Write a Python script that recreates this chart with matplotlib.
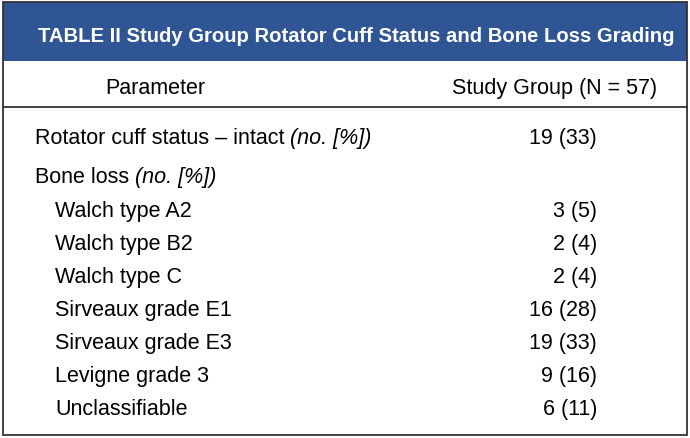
import matplotlib.pyplot as plt
from matplotlib.patches import Rectangle
from matplotlib import font_manager

title = "TABLE II Study Group Rotator Cuff Status and Bone Loss Grading"
col_headers = ["Parameter", "Study Group (N = 57)"]

labels = ["Rotator cuff status \u2013 intact", "Bone loss", "Walch type A2", "Walch type B2",
          "Walch type C", "Sirveaux grade E1", "Sirveaux grade E3", "Levigne grade 3",
          "Unclassifiable"]
label_notes = [" (no. [%])", " (no. [%])", "", "", "", "", "", "", ""]
indent = [0, 0, 1, 1, 1, 1, 1, 1, 1]
values = ["19 (33)", "", "3 (5)", "2 (4)", "2 (4)", "16 (28)", "19 (33)", "9 (16)", "6 (11)"]

row_y = [136, 175, 209, 242, 275, 308, 341, 374, 407]

installed = {f.name for f in font_manager.fontManager.ttflist}
narrow = "Liberation Sans Narrow" in installed
font = ["Liberation Sans Narrow" if narrow else "Liberation Sans", "DejaVu Sans"]
body_fs = 17.5 if narrow else 15.5
title_fs = 18 if narrow else 14.6

W, H = 690, 439
fig = plt.figure(figsize=(W / 100, H / 100), dpi=100)
ax = fig.add_axes([0, 0, 1, 1])
ax.set_xlim(0, W)
ax.set_ylim(H, 0)
ax.axis("off")

blue = "#2f5594"
edge = "#333333"

# header band and outline
ax.add_patch(Rectangle((3, 3), W - 6, 59, facecolor=blue, edgecolor="none"))
ax.add_patch(Rectangle((3, 3), W - 6, H - 6, facecolor="none", edgecolor=edge, lw=1.3))
ax.plot([3, W - 3], [108, 108], color=edge, lw=1.3)

ax.text(356, 34, title, color="white", fontsize=title_fs, fontweight="bold",
        family=font, ha="center", va="center_baseline")
ax.text(155, 86, col_headers[0], fontsize=body_fs, family=font, ha="center",
        va="center_baseline")
ax.text(555, 86, col_headers[1], fontsize=body_fs, family=font, ha="center",
        va="center_baseline")

for y, lab, note, ind, val in zip(row_y, labels, label_notes, indent, values):
    x0 = 35 + 20 * ind
    t = ax.text(x0, y, lab, fontsize=body_fs, family=font, ha="left", va="center_baseline")
    if note:
        fig.canvas.draw()
        bb = t.get_window_extent()
        ax.text(bb.x1, y, note, fontsize=body_fs, family=font, style="italic",
                ha="left", va="center_baseline")
    if val:
        ax.text(597, y, val, fontsize=body_fs, family=font, ha="right",
                va="center_baseline")

fig.savefig("out.png", dpi=100)
